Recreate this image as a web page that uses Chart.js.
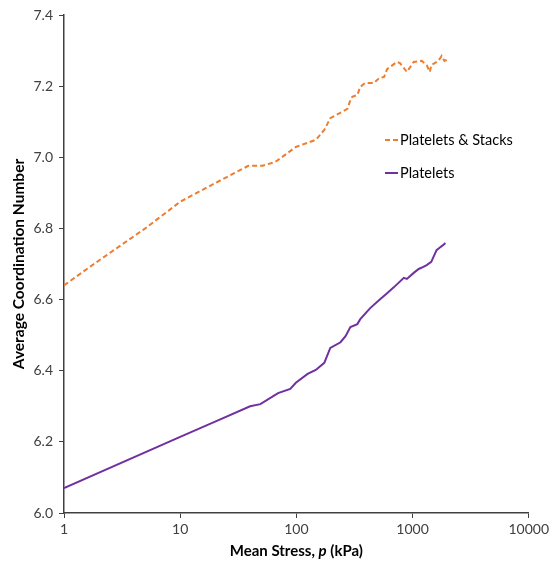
<!DOCTYPE html>
<html>
<head>
<meta charset="utf-8">
<script src="https://cdn.jsdelivr.net/npm/chart.js@4/dist/chart.umd.min.js"></script>
<style>
html,body{margin:0;padding:0;background:#fff;}
#wrap{width:552px;height:565px;position:relative;}
</style>
</head>
<body>
<div id="wrap"><canvas id="c" width="552" height="565"></canvas></div>
<script>
const seriesNames = ["Platelets & Stacks", "Platelets"];
const xTicks = [1, 10, 100, 1000, 10000];

const stacksX = [1, 2, 5, 10, 18.6, 38.6, 51, 66, 99, 147, 174, 196, 275, 292, 303, 335, 355, 391, 467, 517, 569, 604, 734, 779, 894, 1024, 1200, 1324, 1410, 1450, 1670, 1780, 1885, 1980];
const stacksY = [6.64, 6.71, 6.80, 6.875, 6.922, 6.976, 6.976, 6.987, 7.029, 7.049, 7.077, 7.11, 7.136, 7.161, 7.17, 7.175, 7.198, 7.209, 7.209, 7.223, 7.226, 7.248, 7.268, 7.265, 7.24, 7.268, 7.271, 7.259, 7.24, 7.259, 7.271, 7.285, 7.271, 7.274];

const plateX = [1, 10, 21.4, 40, 49, 69.6, 88.6, 99, 125, 147, 174, 196, 240, 265, 292, 335, 355, 432, 517, 604, 693, 842, 894, 1024, 1130, 1240, 1324, 1450, 1610, 1700, 1830, 1920];
const plateY = [6.07, 6.214, 6.261, 6.30, 6.306, 6.337, 6.349, 6.366, 6.391, 6.402, 6.422, 6.464, 6.48, 6.497, 6.523, 6.531, 6.545, 6.576, 6.599, 6.618, 6.635, 6.661, 6.658, 6.675, 6.686, 6.692, 6.697, 6.706, 6.739, 6.745, 6.753, 6.759];

const toPts = (xs, ys) => xs.map((x, i) => ({x: x, y: ys[i]}));

const FONT = "Lato, 'Open Sans', sans-serif";

const overlay = {
  id: 'overlay',
  afterDraw(chart) {
    const ctx = chart.ctx;
    const ds = chart.data.datasets;
    ctx.save();
    const items = [{y: 140}, {y: 173}];
    ds.forEach((d, i) => {
      const y = items[i].y;
      ctx.strokeStyle = d.borderColor;
      ctx.lineWidth = 2;
      ctx.setLineDash(d.borderDash || []);
      ctx.beginPath();
      ctx.moveTo(385, y);
      ctx.lineTo(398, y);
      ctx.stroke();
      ctx.setLineDash([]);
      ctx.fillStyle = '#000';
      ctx.font = "14.5px " + FONT;
      ctx.textBaseline = 'middle';
      ctx.textAlign = 'left';
      ctx.fillText(d.label, 400, y);
    });
    const parts = [["Mean Stress, ", "bold"], ["p", "bold italic"], [" (kPa)", "bold"]];
    let total = 0;
    parts.forEach(p => { ctx.font = p[1] + " 15px " + FONT; total += ctx.measureText(p[0]).width; });
    const ca = chart.chartArea;
    let x = (ca.left + ca.right) / 2 - total / 2;
    ctx.fillStyle = '#000';
    ctx.textBaseline = 'middle';
    parts.forEach(p => {
      ctx.font = p[1] + " 15px " + FONT;
      ctx.fillText(p[0], x, 551);
      x += ctx.measureText(p[0]).width;
    });
    ctx.restore();
  }
};

new Chart(document.getElementById('c'), {
  type: 'line',
  data: {
    datasets: [
      {label: seriesNames[0], data: toPts(stacksX, stacksY), borderColor: '#ED7D31', borderWidth: 2, borderDash: [5, 3], pointRadius: 0, fill: false, tension: 0},
      {label: seriesNames[1], data: toPts(plateX, plateY), borderColor: '#7030A0', borderWidth: 2, pointRadius: 0, fill: false, tension: 0}
    ]
  },
  options: {
    responsive: false,
    animation: false,
    layout: {padding: {top: 15, right: 19, left: 0, bottom: 0}},
    plugins: {legend: {display: false}, tooltip: {enabled: false}},
    scales: {
      x: {
        type: 'logarithmic',
        min: 1, max: 10000,
        afterBuildTicks: (s) => { s.ticks = xTicks.map(v => ({value: v})); },
        afterFit: (s) => { s.height = 52; },
        ticks: {
          callback: (v) => String(v),
          color: '#404040', font: {size: 14, family: FONT}, maxRotation: 0, padding: 3
        },
        grid: {display: true, drawOnChartArea: false, drawTicks: true, tickLength: 5, color: '#404040'},
        border: {display: true, color: '#404040', width: 1.5}
      },
      y: {
        min: 6.0, max: 7.4,
        afterFit: (s) => { s.width = 64; },
        ticks: {
          stepSize: 0.2,
          callback: (v) => Number(v).toFixed(1),
          color: '#404040', font: {size: 14, family: FONT}, padding: 6
        },
        grid: {display: true, drawOnChartArea: false, drawTicks: true, tickLength: 5, color: '#404040'},
        border: {display: true, color: '#404040', width: 1.5},
        title: {display: true, text: 'Average Coordination Number', color: '#000', font: {size: 15.5, weight: 'bold', family: FONT}, padding: {top: 10, bottom: 0}}
      }
    }
  },
  plugins: [overlay]
});
</script>
</body>
</html>
